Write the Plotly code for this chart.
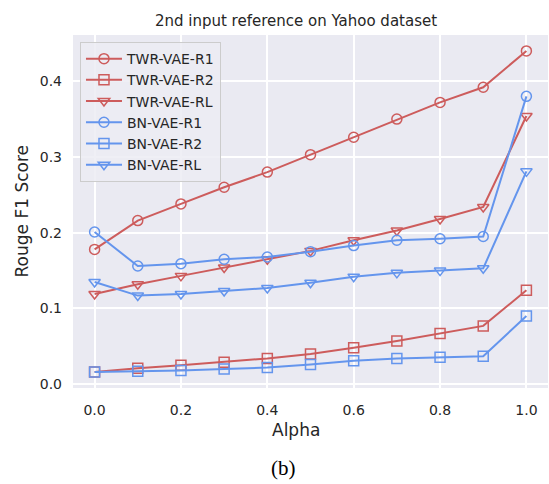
import plotly.graph_objects as go

alpha = [0.0, 0.1, 0.2, 0.3, 0.4, 0.5, 0.6, 0.7, 0.8, 0.9, 1.0]

twr_r1 = [0.178, 0.216, 0.238, 0.260, 0.280, 0.303, 0.326, 0.350, 0.372, 0.392, 0.440]
twr_r2 = [0.016, 0.021, 0.025, 0.029, 0.034, 0.040, 0.048, 0.057, 0.067, 0.077, 0.124]
twr_rl = [0.119, 0.132, 0.143, 0.154, 0.165, 0.176, 0.190, 0.203, 0.218, 0.234, 0.354]
bn_r1 = [0.201, 0.156, 0.159, 0.165, 0.168, 0.175, 0.183, 0.190, 0.192, 0.195, 0.380]
bn_r2 = [0.016, 0.017, 0.018, 0.020, 0.022, 0.026, 0.031, 0.034, 0.0355, 0.037, 0.090]
bn_rl = [0.135, 0.117, 0.119, 0.123, 0.127, 0.134, 0.142, 0.147, 0.150, 0.153, 0.281]

x_ticks = [0.0, 0.2, 0.4, 0.6, 0.8, 1.0]
x_tick_labels = ["0.0", "0.2", "0.4", "0.6", "0.8", "1.0"]
y_ticks = [0.0, 0.1, 0.2, 0.3, 0.4]
y_tick_labels = ["0.0", "0.1", "0.2", "0.3", "0.4"]

RED = "#CD5C5C"
BLUE = "#6495ED"
TXT = "#262626"

series = [
    ("TWR-VAE-R1", twr_r1, RED, "circle-open"),
    ("TWR-VAE-R2", twr_r2, RED, "square-open"),
    ("TWR-VAE-RL", twr_rl, RED, "triangle-down-open"),
    ("BN-VAE-R1", bn_r1, BLUE, "circle-open"),
    ("BN-VAE-R2", bn_r2, BLUE, "square-open"),
    ("BN-VAE-RL", bn_rl, BLUE, "triangle-down-open"),
]

fig = go.Figure()
for name, vals, col, sym in series:
    fig.add_trace(go.Scatter(
        x=alpha, y=vals, name=name, mode="lines+markers",
        line=dict(color=col, width=2),
        marker=dict(symbol=sym, size=10, color=col, line=dict(color=col, width=1.5)),
    ))

fig.update_layout(
    width=549, height=484,
    margin=dict(l=73, r=1, t=35, b=96),
    paper_bgcolor="white",
    plot_bgcolor="#EAEAF2",
    font=dict(family="DejaVu Sans", color=TXT, size=14),
    title=dict(text="2nd input reference on Yahoo dataset", x=296/549, xref="container",
               xanchor="center", y=1-21/484, yref="container", yanchor="middle",
               font=dict(size=15, color=TXT)),
    showlegend=True,
    legend=dict(x=0.0147, y=0.98, xanchor="left", yanchor="top",
                bgcolor="rgba(236,236,243,0.85)", bordercolor="#CCCCCC", borderwidth=1,
                font=dict(size=14, color=TXT), itemwidth=36),
    xaxis=dict(range=[-0.05, 1.05], tickvals=x_ticks, ticktext=x_tick_labels,
               showgrid=True, gridcolor="white", gridwidth=1.5, zeroline=False,
               showline=False, ticks="", ticklabelstandoff=12,
               tickfont=dict(size=14, color=TXT)),
    yaxis=dict(range=[-0.005, 0.461], tickvals=y_ticks, ticktext=y_tick_labels,
               showgrid=True, gridcolor="white", gridwidth=1.5, zeroline=False,
               showline=False, ticks="", ticklabelstandoff=10,
               tickfont=dict(size=14, color=TXT)),
    annotations=[
        dict(text="Alpha", x=(296-73)/475, y=1-(430-35)/353, xref="paper", yref="paper",
             xanchor="center", yanchor="middle", showarrow=False, font=dict(size=17, color=TXT)),
        dict(text="Rouge F1 Score", x=(21-73)/475, y=0.5, xref="paper", yref="paper",
             xanchor="center", yanchor="middle", showarrow=False, textangle=-90,
             font=dict(size=17, color=TXT)),
        dict(text="(b)", x=(283-73)/475, y=1-(468-35)/353, xref="paper", yref="paper",
             xanchor="center", yanchor="middle", showarrow=False,
             font=dict(size=21, color="black", family="Liberation Serif")),
    ],
)

fig.write_html("out.html", config={"displayModeBar": False},
               post_script="document.body.style.margin='0';document.body.style.padding='0';")
